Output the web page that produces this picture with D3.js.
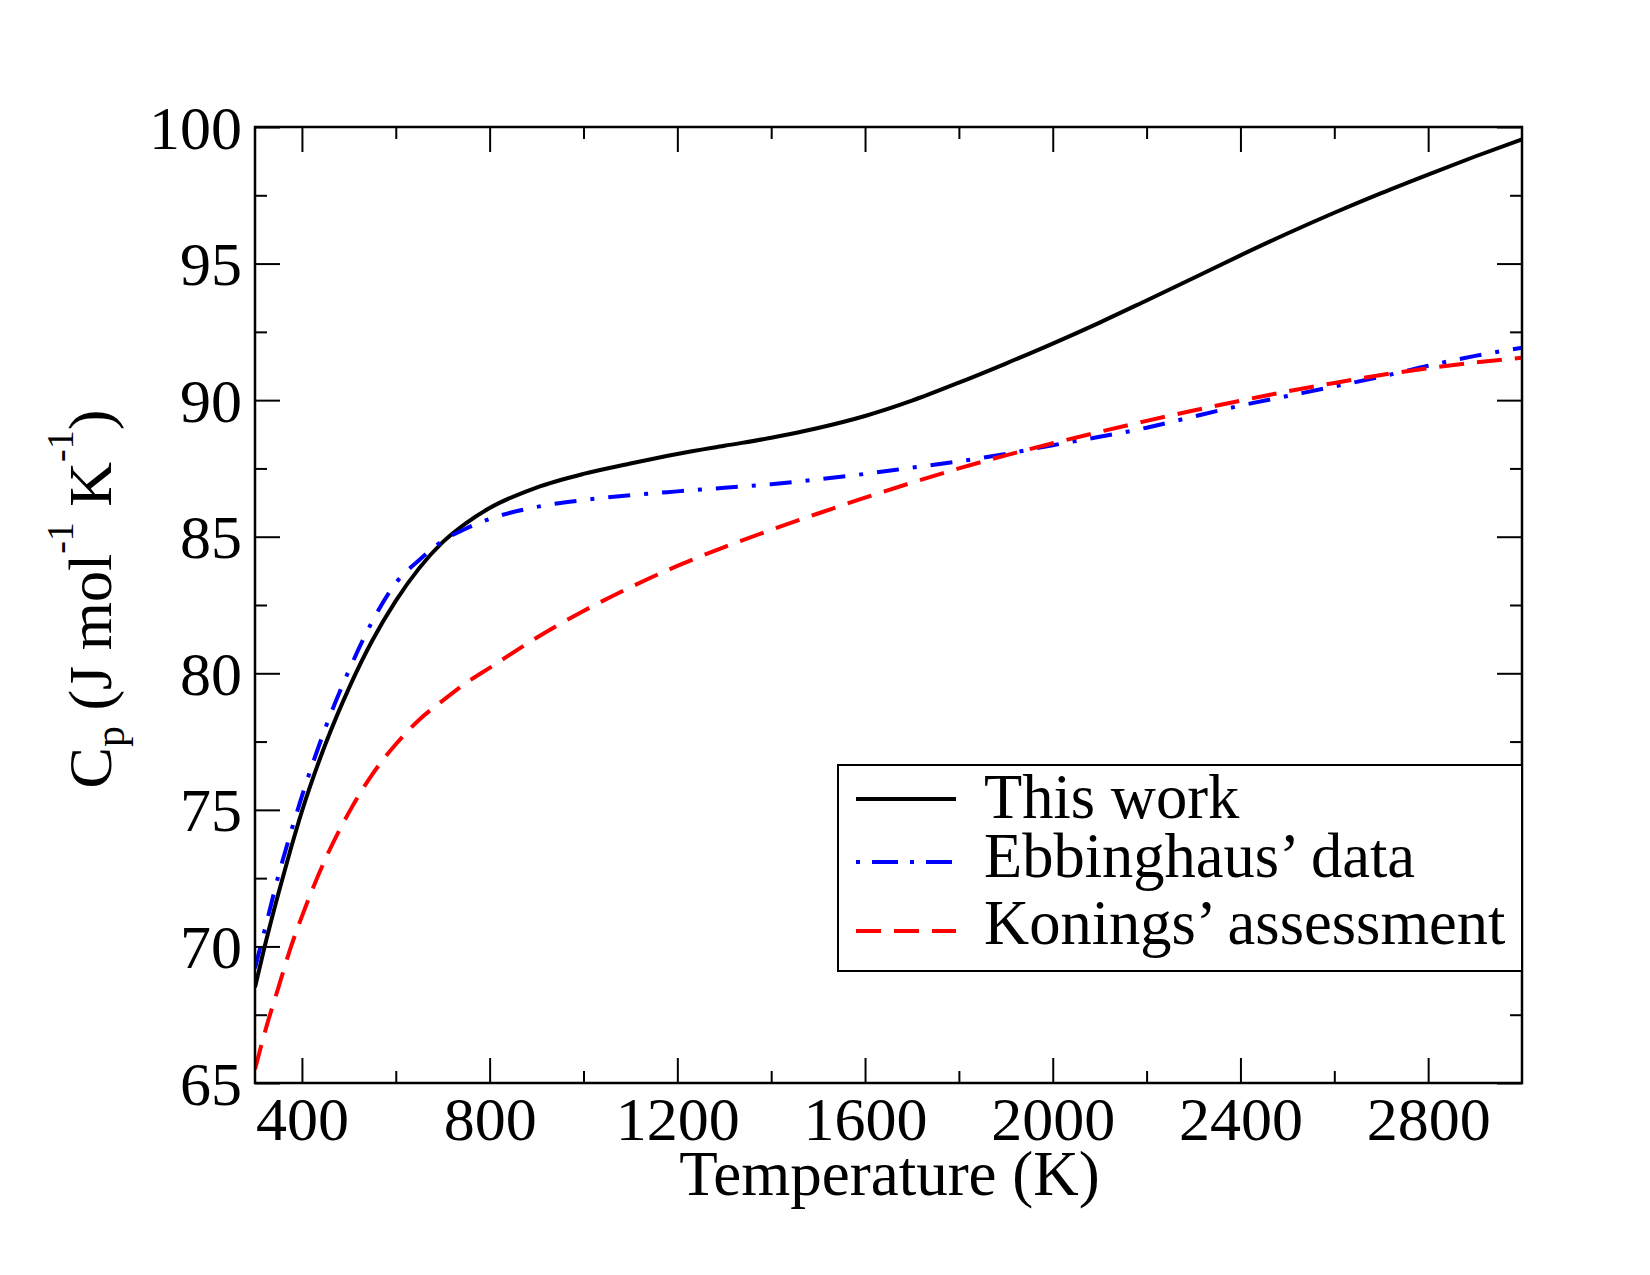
<!DOCTYPE html>
<html>
<head>
<meta charset="utf-8">
<script src="https://cdn.jsdelivr.net/npm/d3@7/dist/d3.min.js"></script>
<style>
  html, body { margin: 0; padding: 0; background: #fff; }
  svg { display: block; }
  text { font-family: "Liberation Serif", "Times New Roman", serif; fill: #000; }
</style>
</head>
<body>
<svg id="chart" width="1650" height="1275"></svg>
<script>
// ---- data ----
const temperature = [300, 325, 350, 375, 400, 450, 500, 550, 600, 650, 700, 750, 800, 900, 1000, 1100, 1200, 1300, 1400, 1500, 1600, 1700, 1800, 1900, 2000, 2100, 2200, 2300, 2400, 2500, 2600, 2700, 2800, 2900, 3000];
const thisWork = [68.5, 70.3, 71.95, 73.5, 74.95, 77.4, 79.45, 81.2, 82.65, 83.85, 84.8, 85.5, 86.05, 86.8, 87.3, 87.68, 88.03, 88.33, 88.62, 88.98, 89.42, 89.98, 90.64, 91.34, 92.07, 92.84, 93.65, 94.47, 95.3, 96.1, 96.86, 97.58, 98.26, 98.92, 99.55];
const ebbinghaus = [69.2, 70.9, 72.6, 74.1, 75.5, 78.0, 80.1, 81.9, 83.3, 84.15, 84.85, 85.3, 85.65, 86.09, 86.34, 86.52, 86.66, 86.79, 86.92, 87.1, 87.3, 87.53, 87.76, 88.03, 88.35, 88.66, 88.99, 89.4, 89.8, 90.15, 90.5, 90.86, 91.26, 91.62, 91.92];
const konings = [65.5, 67.1, 68.5, 69.9, 71.1, 73.2, 74.9, 76.3, 77.4, 78.3, 79.0, 79.65, 80.2, 81.3, 82.28, 83.15, 83.93, 84.62, 85.25, 85.85, 86.43, 86.98, 87.5, 87.98, 88.42, 88.84, 89.24, 89.62, 89.98, 90.32, 90.63, 90.92, 91.17, 91.38, 91.55];
const seriesNames = ["This work", "Ebbinghaus\u2019 data", "Konings\u2019 assessment"];
const xMajorTicks = [400, 800, 1200, 1600, 2000, 2400, 2800];
const yMajorTicks = [65, 70, 75, 80, 85, 90, 95, 100];

// ---- layout ----
const svg = d3.select("#chart");
const L = 255, R = 1522, T = 127, B = 1083;
const x = d3.scaleLinear().domain([300, 3000]).range([L, R]);
const y = d3.scaleLinear().domain([65, 100]).range([B, T]);

const styles = [
  { color: "#000000", dash: null },
  { color: "#0000ff", dash: "22,14,4,14" },
  { color: "#ff0000", dash: "25,13" }
];
const allSeries = [thisWork, ebbinghaus, konings];

// clip
svg.append("defs").append("clipPath").attr("id", "clip")
  .append("rect").attr("x", L).attr("y", T).attr("width", R - L).attr("height", B - T);

// lines
const line = d3.line()
  .x((d, i) => x(temperature[i]))
  .y(d => y(d))
  .curve(d3.curveMonotoneX);

const g = svg.append("g").attr("clip-path", "url(#clip)");
allSeries.forEach((s, k) => {
  g.append("path")
    .datum(s)
    .attr("d", line)
    .attr("fill", "none")
    .attr("stroke", styles[k].color)
    .attr("stroke-width", 4)
    .attr("stroke-dasharray", styles[k].dash);
});

// axes (ticks inward, mirrored)
const xMinor = d3.range(400, 3000, 200).filter(v => !xMajorTicks.includes(v));
const yMinor = d3.range(67.5, 100, 5);

function drawAxis(axisGen, transform) {
  const a = svg.append("g").attr("transform", transform).call(axisGen);
  a.selectAll(".domain").remove();
  a.selectAll("line").attr("stroke", "#000").attr("stroke-width", 2);
  return a;
}

// bottom
const xb = drawAxis(d3.axisBottom(x).tickValues(xMajorTicks).tickSize(-25).tickFormat(d3.format("d")).tickPadding(0), `translate(0,${B})`);
xb.selectAll("text").attr("font-size", 62).attr("font-family", "Liberation Serif").attr("y", 57).attr("dy", 0);
drawAxis(d3.axisBottom(x).tickValues(xMinor).tickSize(-12).tickFormat(""), `translate(0,${B})`);
// top
drawAxis(d3.axisTop(x).tickValues(xMajorTicks).tickSize(-25).tickFormat(""), `translate(0,${T})`);
drawAxis(d3.axisTop(x).tickValues(xMinor).tickSize(-12).tickFormat(""), `translate(0,${T})`);
// left
const yl = drawAxis(d3.axisLeft(y).tickValues(yMajorTicks).tickSize(-25).tickFormat(d3.format("d")).tickPadding(13), `translate(${L},0)`);
yl.selectAll("text").attr("font-size", 62).attr("font-family", "Liberation Serif").attr("x", -13).attr("dy", "0.34em");
drawAxis(d3.axisLeft(y).tickValues(yMinor).tickSize(-12).tickFormat(""), `translate(${L},0)`);
// right
drawAxis(d3.axisRight(y).tickValues(yMajorTicks).tickSize(-25).tickFormat(""), `translate(${R},0)`);
drawAxis(d3.axisRight(y).tickValues(yMinor).tickSize(-12).tickFormat(""), `translate(${R},0)`);

// frame
svg.append("rect").attr("x", L).attr("y", T).attr("width", R - L).attr("height", B - T)
  .attr("fill", "none").attr("stroke", "#000").attr("stroke-width", 2.5);

// axis titles
svg.append("text").attr("x", (L + R) / 2 + 1).attr("y", 1195)
  .attr("text-anchor", "middle").attr("font-size", 63).text("Temperature (K)");

const yt = svg.append("text").attr("transform", `translate(111,${(T + B) / 2 - 6}) rotate(-90)`)
  .attr("text-anchor", "middle").attr("font-size", 62);
yt.append("tspan").text("C");
yt.append("tspan").attr("font-size", 42).attr("dy", 13).text("p");
yt.append("tspan").attr("dy", -13).text(" (J mol");
yt.append("tspan").attr("font-size", 38).attr("dy", -38).text("-1");
yt.append("tspan").attr("dy", 38).text(" K");
yt.append("tspan").attr("font-size", 38).attr("dy", -38).text("-1");
yt.append("tspan").attr("dy", 38).text(")");

// legend
svg.append("rect").attr("x", 838).attr("y", 765).attr("width", R - 838).attr("height", 206)
  .attr("fill", "#fff").attr("stroke", "#000").attr("stroke-width", 2);
const legLineY = [799, 862, 931];
const legTextY = [818, 877, 944];
seriesNames.forEach((name, k) => {
  svg.append("line").attr("x1", 856).attr("x2", 956)
    .attr("y1", legLineY[k]).attr("y2", legLineY[k])
    .attr("stroke", styles[k].color).attr("stroke-width", 4)
    .attr("stroke-dasharray", k === 1 ? "4,12,26,12" : styles[k].dash);
  svg.append("text").attr("x", 984).attr("y", legTextY[k]).attr("font-size", 62.5).text(name);
});
</script>
</body>
</html>
